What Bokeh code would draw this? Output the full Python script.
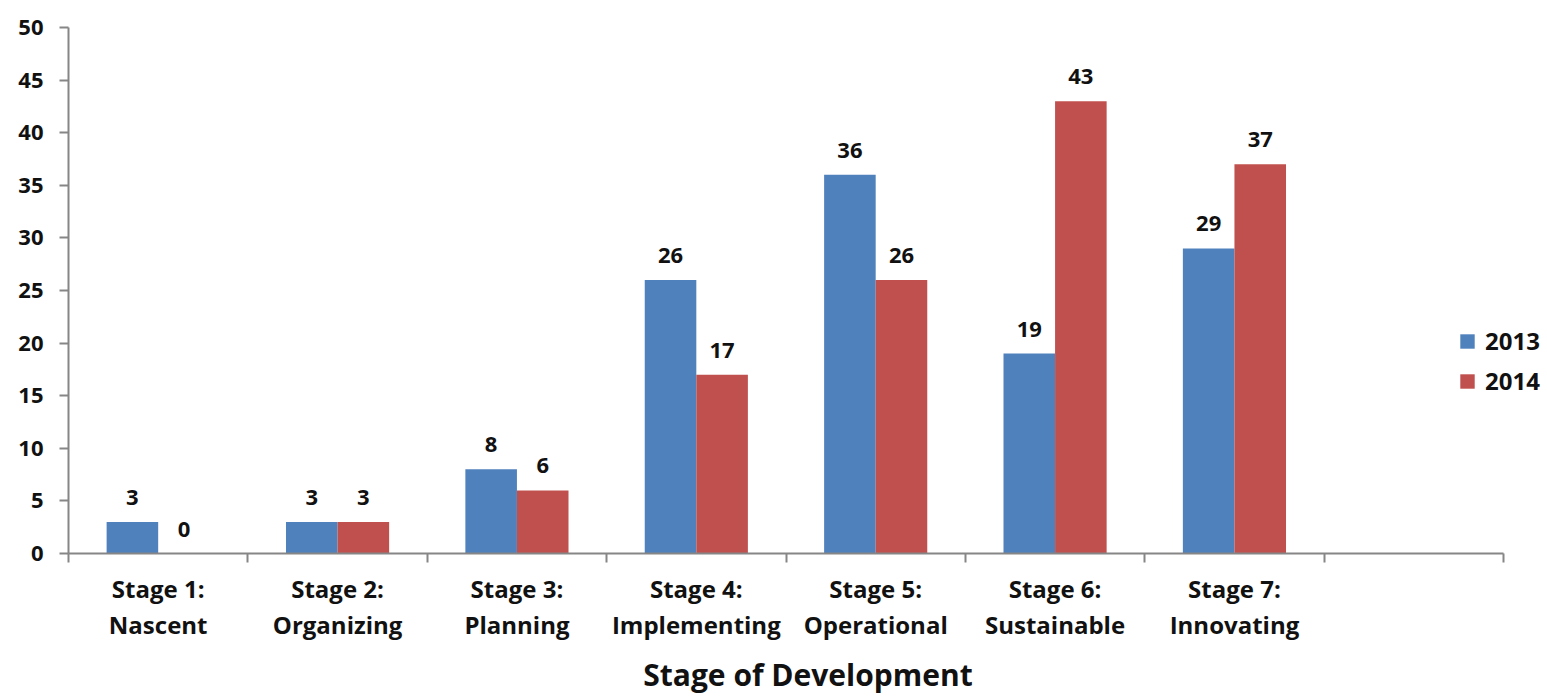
from bokeh.plotting import figure
from bokeh.models import (Range1d, FixedTicker, ColumnDataSource, LabelSet,
                          Legend, LegendItem)
from bokeh.core.properties import value
from bokeh.embed import file_html
from bokeh.resources import INLINE

# ---- data ----
stages = ["Stage 1:\nNascent", "Stage 2:\nOrganizing", "Stage 3:\nPlanning",
          "Stage 4:\nImplementing", "Stage 5:\nOperational",
          "Stage 6:\nSustainable", "Stage 7:\nInnovating"]
values_2013 = [3, 3, 8, 26, 36, 19, 29]
values_2014 = [0, 3, 6, 17, 26, 43, 37]
series_names = ["2013", "2014"]
y_ticks = [0, 5, 10, 15, 20, 25, 30, 35, 40, 45, 50]
n_slots = 8  # seven stages plus one empty slot, as in the source chart

FONT = "Open Sans"
BLUE = "#4F81BD"
RED = "#C0504D"
AXIS = "#868686"
TXT = "#111111"

W, H = 1547, 698
LEFT, TOP, BOTTOM = 68, 27, 144
slot_px = (1503 - 68) / n_slots
x_end = (W - LEFT) / slot_px

bar_w = 0.2875
centers = [i + 0.5 for i in range(len(stages))]
x13 = [c - bar_w / 2 for c in centers]
x14 = [c + bar_w / 2 for c in centers]

src13 = ColumnDataSource(dict(x=x13, top=values_2013, lab=[str(v) for v in values_2013]))
src14 = ColumnDataSource(dict(x=x14, top=values_2014, lab=[str(v) for v in values_2014]))

p = figure(width=W, height=H, output_backend="svg", toolbar_location=None,
           x_range=Range1d(0, x_end), y_range=Range1d(0, 50),
           min_border_left=LEFT, min_border_right=0, min_border_top=TOP,
           min_border_bottom=BOTTOM)
p.outline_line_color = None
p.xgrid.visible = False
p.ygrid.visible = False
p.background_fill_color = "white"
p.border_fill_color = "white"

r13 = p.vbar(x="x", top="top", width=bar_w, bottom=0, source=src13,
             fill_color=BLUE, line_color=None)
r14 = p.vbar(x="x", top="top", width=bar_w, bottom=0, source=src14,
             fill_color=RED, line_color=None)

for s in (src13, src14):
    p.add_layout(LabelSet(x="x", y="top", text="lab", source=s, y_offset=17,
                          text_align="center", text_baseline="alphabetic",
                          text_font=value(FONT), text_font_size="22px",
                          text_font_style="bold", text_color=TXT))

# x axis
xa = p.xaxis[0]
xa.bounds = (0, n_slots)
xa.ticker = FixedTicker(ticks=centers, minor_ticks=list(range(n_slots + 1)))
xa.major_label_overrides = {c: s for c, s in zip(centers, stages)}
xa.major_tick_line_color = None
xa.major_tick_out = 0
xa.major_tick_in = 0
xa.minor_tick_out = 9
xa.minor_tick_in = 0
xa.minor_tick_line_color = AXIS
xa.minor_tick_line_width = 2
xa.axis_line_color = AXIS
xa.axis_line_width = 2
xa.major_label_text_font = FONT
xa.major_label_text_font_size = "24px"
xa.major_label_text_font_style = "bold"
xa.major_label_text_color = TXT
xa.major_label_text_line_height = 1.12
xa.major_label_standoff = 9
xa.axis_label = "Stage of Development"
xa.axis_label_text_font = FONT
xa.axis_label_text_font_size = "30px"
xa.axis_label_text_font_style = "bold"
xa.axis_label_text_color = TXT
xa.axis_label_standoff = 10

# y axis
ya = p.yaxis[0]
ya.ticker = FixedTicker(ticks=y_ticks)
ya.minor_tick_line_color = None
ya.major_tick_out = 9
ya.major_tick_in = 0
ya.major_tick_line_color = AXIS
ya.major_tick_line_width = 2
ya.axis_line_color = AXIS
ya.axis_line_width = 2
ya.major_label_text_font = FONT
ya.major_label_text_font_size = "22px"
ya.major_label_text_font_style = "bold"
ya.major_label_text_color = TXT
ya.major_label_standoff = 16

legend = Legend(items=[LegendItem(label=series_names[0], renderers=[r13]),
                       LegendItem(label=series_names[1], renderers=[r14])],
                location=(1390, 156), orientation="vertical",
                label_text_font=FONT, label_text_font_size="24px",
                label_text_font_style="bold", label_text_color=TXT,
                glyph_width=18, glyph_height=18, label_standoff=9,
                spacing=7, padding=0, margin=0,
                border_line_color=None, background_fill_alpha=0)
p.add_layout(legend, "center")

open("out.html", "w").write(file_html(p, INLINE))
